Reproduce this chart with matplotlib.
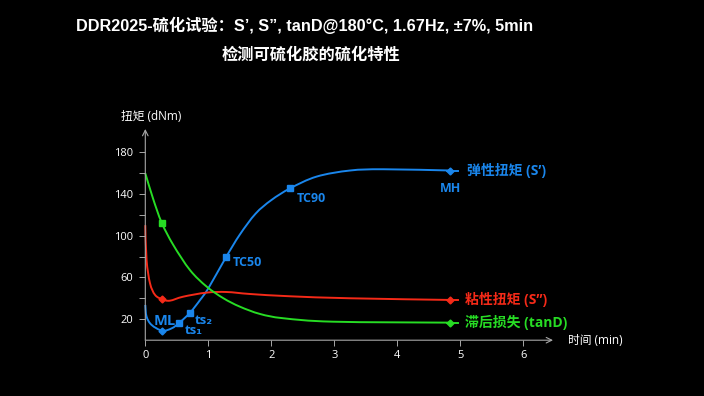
import numpy as np
import matplotlib
matplotlib.use("Agg")
import matplotlib.pyplot as plt
from matplotlib.path import Path
from matplotlib.patches import PathPatch

plt.rcParams["font.family"] = ["Open Sans", "Noto Sans CJK SC", "DejaVu Sans"]

# values (time in min, torque in dNm)
s1_t = [0.0, 0.02, 0.10, 0.27, 0.42, 0.535, 0.71, 0.87, 1.0, 1.28, 1.50, 1.75, 2.0, 2.30, 2.72, 3.25, 3.78, 4.84]
s1_v = [33.7, 22.6, 14.6, 9.1, 11.4, 16.4, 26.3, 38.5, 49.6, 79.3, 101.0, 121.0, 134.0, 145.3, 156.5, 162.3, 163.5, 162.3]

s2_t = [0.0, 0.02, 0.075, 0.155, 0.27, 0.39, 0.60, 0.97, 1.29, 1.66, 2.3, 3.25, 4.84]
s2_v = [110.0, 76.7, 54.4, 43.3, 39.1, 37.8, 41.6, 45.5, 46.1, 44.2, 42.0, 40.1, 38.5]

td_t = [0.0, 0.12, 0.26, 0.445, 0.71, 0.975, 1.24, 1.50, 1.82, 2.19, 2.98, 4.84]
td_v = [159.7, 136.0, 112.4, 91.0, 67.0, 51.2, 40.1, 32.1, 25.1, 21.0, 17.7, 16.8]

# marked points: (t, value)
s1_squares = [(0.535, 16.4), (0.71, 26.3), (1.28, 79.3), (2.30, 145.3)]
s1_diamonds = [(0.27, 9.1), (4.84, 162.3)]
s2_diamonds = [(0.27, 39.1), (4.84, 38.5)]
td_squares = [(0.26, 112.4)]
td_diamonds = [(4.84, 16.8)]

x_ticks = [0, 1, 2, 3, 4, 5, 6]
y_labels = [20, 60, 100, 140, 180]
y_minor = [40, 80, 120, 160]

blue = "#1a86ec"
red = "#f52a18"
green = "#27dc24"
axis_grey = "#a8a8a8"


def smooth_path(xs, ys):
    # Catmull-Rom through the read points, drawn as cubic Bezier segments
    pts = np.column_stack([xs, ys])
    verts = [pts[0]]
    codes = [Path.MOVETO]
    n = len(pts)
    for i in range(n - 1):
        p0 = pts[max(i - 1, 0)]
        p1 = pts[i]
        p2 = pts[i + 1]
        p3 = pts[min(i + 2, n - 1)]
        c1 = p1 + (p2 - p0) / 6.0
        c2 = p2 - (p3 - p1) / 6.0
        verts += [c1, c2, p2]
        codes += [Path.CURVE4] * 3
    return Path(verts, codes)


fig = plt.figure(figsize=(7.04, 3.96), dpi=100, facecolor="black")
ax = fig.add_axes([145.3 / 704, (396 - 340.2) / 396, 407.7 / 704, 211.2 / 396])
ax.set_facecolor("black")
ax.set_xlim(0, 6.47)
ax.set_ylim(0, 202)

for s in ["top", "right", "left", "bottom"]:
    ax.spines[s].set_visible(False)

# axes with arrow heads
ax.annotate("", xy=(6.47, 0), xytext=(0, 0), xycoords="data",
            arrowprops=dict(arrowstyle="->", color=axis_grey, lw=0.8, shrinkA=0, shrinkB=0),
            annotation_clip=False)
ax.annotate("", xy=(0, 202), xytext=(0, 0), xycoords="data",
            arrowprops=dict(arrowstyle="->", color=axis_grey, lw=0.8, shrinkA=0, shrinkB=0),
            annotation_clip=False)

ax.set_xticks(x_ticks)
ax.set_xticklabels([str(t) for t in x_ticks])
ax.set_yticks(y_labels)
ax.set_yticklabels([str(v) for v in y_labels])
ax.set_yticks(y_minor, minor=True)
ax.tick_params(axis="both", which="both", colors=axis_grey, direction="out", length=4, width=0.7,
               labelcolor="white", labelsize=8)
ax.tick_params(axis="y", pad=5)
ax.tick_params(axis="x", pad=3)

for xs, ys, col in [(s1_t, s1_v, blue), (s2_t, s2_v, red), (td_t, td_v, green)]:
    ax.add_patch(PathPatch(smooth_path(xs, ys), facecolor="none", edgecolor=col, lw=1.4, clip_on=False))
    # short tail past the end marker
    ax.plot([xs[-1] - 0.05, xs[-1] + 0.12], [ys[-1], ys[-1]], color=col, lw=1.4, clip_on=False)

for pts, col, mk, ms in [(s1_squares, blue, "s", 3.8), (s1_diamonds, blue, "D", 3.5),
                         (s2_diamonds, red, "D", 3.5), (td_squares, green, "s", 3.8),
                         (td_diamonds, green, "D", 3.5)]:
    ax.plot([p[0] for p in pts], [p[1] for p in pts], ls="none", marker=mk, ms=ms, color=col, clip_on=False)

lab = dict(fontweight="bold", clip_on=False)
ax.text(0.14, 18.5, "ML", color=blue, fontsize=10.5, ha="left", va="center", **lab)
ax.text(0.78, 19, "ts₂", color=blue, fontsize=9.5, ha="left", va="center", **lab)
ax.text(0.62, 9.0, "ts₁", color=blue, fontsize=9.5, ha="left", va="center", **lab)
ax.text(1.38, 74, "TC50", color=blue, fontsize=9, ha="left", va="center", **lab)
ax.text(2.40, 136, "TC90", color=blue, fontsize=9, ha="left", va="center", **lab)
ax.text(4.84, 145, "MH", color=blue, fontsize=9, ha="center", va="center", **lab)

ax.text(5.10, 162.3, "弹性扭矩 (S’)", color=blue, fontsize=10, ha="left", va="center", **lab)
ax.text(5.07, 38.5, "粘性扭矩 (S”)", color=red, fontsize=10, ha="left", va="center", **lab)
ax.text(5.07, 16.8, "滞后损失 (tanD)", color=green, fontsize=10, ha="left", va="center", **lab)

fig.text(151 / 704, 1 - 117 / 396, "扭矩 (dNm)", color="white", fontsize=8.5, ha="center", va="center")
fig.text(568 / 704, 1 - 341 / 396, "时间 (min)", color="white", fontsize=8.5, ha="left", va="center")

title_font = ["Liberation Sans", "Noto Sans CJK SC"]
fig.text(305 / 704, 1 - 25 / 396, "DDR2025-硫化试验：S’, S”, tanD@180°C, 1.67Hz, ±7%, 5min",
         color="white", fontsize=11.7, fontweight="bold", family=title_font, ha="center", va="center")
fig.text(311 / 704, 1 - 55 / 396, "检测可硫化胶的硫化特性",
         color="white", fontsize=11.7, fontweight="bold", family=title_font, ha="center", va="center")

fig.savefig("out.png", dpi=100, facecolor="black")
